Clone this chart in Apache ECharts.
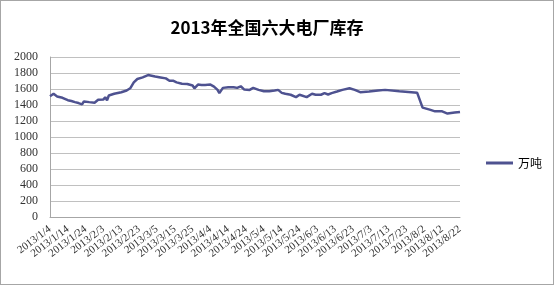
<!DOCTYPE html>
<html>
<head>
<meta charset="utf-8">
<script src="https://cdn.jsdelivr.net/npm/echarts@6/dist/echarts.min.js"></script>
<style>
html,body{margin:0;padding:0;background:#fff;}
#c{width:554px;height:285px;box-sizing:border-box;border:1px solid #a6a6a6;}
</style>
</head>
<body>
<div id="c"></div>
<script>
const titleText = '2013年全国六大电厂库存';
const seriesName = '万吨';
const xTickLabels = [
 '2013/1/4','2013/1/14','2013/1/24','2013/2/3','2013/2/13','2013/2/23','2013/3/5','2013/3/15',
 '2013/3/25','2013/4/4','2013/4/14','2013/4/24','2013/5/4','2013/5/14','2013/5/24','2013/6/3',
 '2013/6/13','2013/6/23','2013/7/3','2013/7/13','2013/7/23','2013/8/2','2013/8/12','2013/8/22'
];
const dates = [
 '2013/1/4','2013/1/6','2013/1/8','2013/1/11','2013/1/14','2013/1/16','2013/1/17','2013/1/18','2013/1/20','2013/1/22',
 '2013/1/23','2013/1/26','2013/1/29','2013/1/31','2013/2/1','2013/2/3','2013/2/4','2013/2/5','2013/2/6','2013/2/9',
 '2013/2/13','2013/2/16','2013/2/18','2013/2/20','2013/2/22','2013/2/25','2013/2/28','2013/3/1','2013/3/4','2013/3/7',
 '2013/3/10','2013/3/12','2013/3/13','2013/3/14','2013/3/16','2013/3/19','2013/3/22','2013/3/25','2013/3/26','2013/3/28',
 '2013/3/30','2013/4/1','2013/4/4','2013/4/6','2013/4/8','2013/4/9','2013/4/11','2013/4/14','2013/4/17','2013/4/18',
 '2013/4/19','2013/4/21','2013/4/22','2013/4/23','2013/4/24','2013/4/26','2013/4/28','2013/5/1','2013/5/4','2013/5/7',
 '2013/5/10','2013/5/12','2013/5/14','2013/5/16','2013/5/17','2013/5/19','2013/5/22','2013/5/24','2013/5/28','2013/5/31',
 '2013/6/2','2013/6/5','2013/6/7','2013/6/9','2013/6/11','2013/6/14','2013/6/17','2013/6/18','2013/6/21','2013/6/24',
 '2013/6/27','2013/7/2','2013/7/7','2013/7/11','2013/7/19','2013/7/29','2013/8/1','2013/8/5','2013/8/8','2013/8/12',
 '2013/8/15','2013/8/19','2013/8/22'
];
const values = [
 1510,1540,1507,1490,1460,1450,1425,1436,1424,1408,
 1445,1436,1429,1466,1486,1470,1498,1457,1519,1540,
 1560,1581,1609,1683,1725,1745,1774,1778,1757,1745,
 1733,1704,1683,1704,1683,1665,1663,1643,1609,1655,
 1651,1651,1655,1630,1589,1548,1614,1622,1622,1634,
 1614,1634,1643,1593,1609,1589,1614,1589,1572,1572,
 1581,1589,1552,1540,1548,1528,1498,1528,1498,1540,
 1528,1528,1548,1531,1548,1568,1589,1572,1609,1589,
 1560,1568,1581,1589,1572,1552,1367,1342,1321,1321,
 1293,1305,1313
];
const yTicks = [0,200,400,600,800,1000,1200,1400,1600,1800,2000];

const base = new Date(2013,0,4).getTime();
function dayOffset(s){
  const p = s.split('/').map(Number);
  return Math.round((new Date(p[0],p[1]-1,p[2]).getTime()-base)/86400000);
}
const pts = dates.map((d,i)=>[dayOffset(d), values[i]]);
const lastDay = dayOffset(xTickLabels[xTickLabels.length-1]);

const chart = echarts.init(document.getElementById('c'), null, {renderer:'canvas'});
chart.setOption({
  animation:false,
  backgroundColor:'#fff',
  title:{
    text:titleText, left:261, top:13, textAlign:'center',
    textStyle:{fontFamily:'Noto Sans CJK SC', fontWeight:'bold', fontSize:17, color:'#000'}
  },
  legend:{
    data:[{name:seriesName, icon:'rect'}],
    left:480, top:151, itemWidth:27, itemHeight:3, itemGap:4,
    textStyle:{fontFamily:'Noto Sans CJK SC', fontSize:12, color:'#000'}
  },
  grid:{left:49, right:93, top:56, bottom:67, containLabel:false, outerBoundsMode:'none'},
  xAxis:[{
    type:'value', min:0, max:lastDay, interval:10,
    axisLine:{show:true, lineStyle:{color:'#a6a6a6', width:1}},
    axisTick:{show:false},
    splitLine:{show:false},
    axisLabel:{show:false}
  },{
    type:'category', position:'bottom', data:xTickLabels, boundaryGap:false,
    axisLine:{show:false}, axisTick:{show:false}, splitLine:{show:false},
    axisLabel:{
      interval:0, rotate:37, margin:11, hideOverlap:false,
      fontFamily:'Liberation Serif', fontSize:11, color:'#333'
    }
  }],
  yAxis:{
    type:'value', min:yTicks[0], max:yTicks[yTicks.length-1], interval:200,
    axisLine:{show:true, lineStyle:{color:'#a6a6a6', width:1}},
    axisTick:{show:false},
    splitLine:{show:true, lineStyle:{color:'#c0c0c0', width:1}},
    axisLabel:{fontFamily:'Liberation Serif', fontSize:12, color:'#333', margin:12,
      formatter:function(v){return String(v);}}
  },
  series:[{
    name:seriesName, type:'line', xAxisIndex:0, data:pts, showSymbol:false, symbol:'none',
    lineStyle:{color:'#4e5290', width:2.5},
    itemStyle:{color:'#4e5290'}
  }]
});
</script>
</body>
</html>
